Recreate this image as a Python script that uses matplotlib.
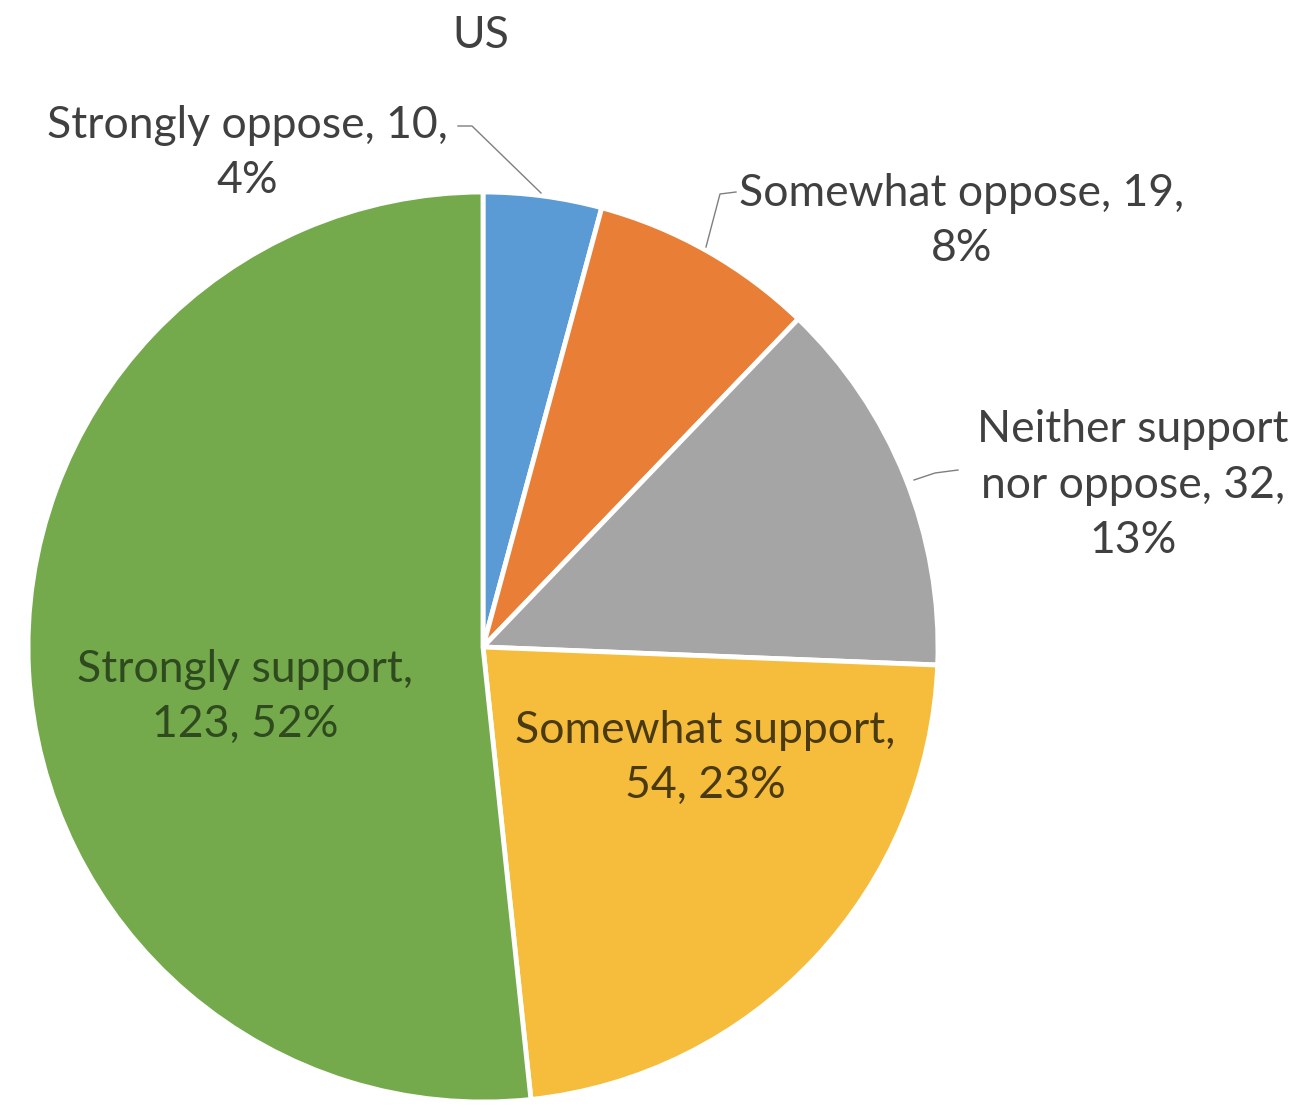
import matplotlib
matplotlib.use("Agg")
import matplotlib.pyplot as plt

# survey answers, clockwise from 12 o'clock
categories = ["Strongly oppose", "Somewhat oppose", "Neither support\nnor oppose",
              "Somewhat support", "Strongly support"]
counts = [10, 19, 32, 54, 123]
colors = ["#5B9BD5", "#E97F36", "#A5A5A5", "#F5BD3B", "#74AA4C"]

W, H = 1302, 1108
CX, CY, R = 483, 647, 455


def px(x, y):
    # pixel position -> pie data coordinates (radius 1)
    return (x - CX) / R, (CY - y) / R


plt.rcParams['font.family'] = ['Lato', 'DejaVu Sans']

fig = plt.figure(figsize=(W / 100, H / 100), dpi=100)
ax = fig.add_axes([(CX - R) / W, (H - CY - R) / H, 2 * R / W, 2 * R / H])

total = sum(counts)
wedges, _ = ax.pie(counts, colors=colors, startangle=90, counterclock=False,
                   radius=1, wedgeprops=dict(edgecolor="white", linewidth=3.5))
ax.set_xlim(-1, 1)
ax.set_ylim(-1, 1)
ax.set_aspect("equal")
ax.axis("off")

pct = [round(100 * c / total) for c in counts]
fs = 32
dark = "#404040"
ls = 1.45

# title
ax.text(*px(481, 35), "US", ha="center", va="center", fontsize=fs, color=dark)

# outside labels with leader lines
ax.text(*px(247, 153), f"{categories[0]}, {counts[0]},\n{pct[0]}%", ha="center",
        va="center", fontsize=fs, color=dark, linespacing=ls)
ax.plot(*zip(px(458, 126), px(472, 126), px(541, 193)), color="#7F7F7F", lw=1, clip_on=False)

ax.text(*px(962, 221), f"{categories[1]}, {counts[1]},\n{pct[1]}%", ha="center",
        va="center", fontsize=fs, color=dark, linespacing=ls)
ax.plot(*zip(px(736, 192), px(720, 194), px(706, 247)), color="#7F7F7F", lw=1, clip_on=False)

ax.text(*px(1133, 485), f"{categories[2]}, {counts[2]},\n{pct[2]}%", ha="center",
        va="center", fontsize=fs, color=dark, linespacing=ls)
ax.plot(*zip(px(958, 470), px(935, 473), px(914, 480)), color="#7F7F7F", lw=1, clip_on=False)

# labels inside the large slices
ax.text(*px(245, 697), f"Strongly support,\n{counts[4]}, {pct[4]}%", ha="center",
        va="center", fontsize=fs, color="#2E4A1E", linespacing=ls)
ax.text(*px(705, 758), f"Somewhat support,\n{counts[3]}, {pct[3]}%", ha="center",
        va="center", fontsize=fs, color="#4A3A12", linespacing=ls)

fig.savefig("out.png", dpi=100, facecolor="white")
